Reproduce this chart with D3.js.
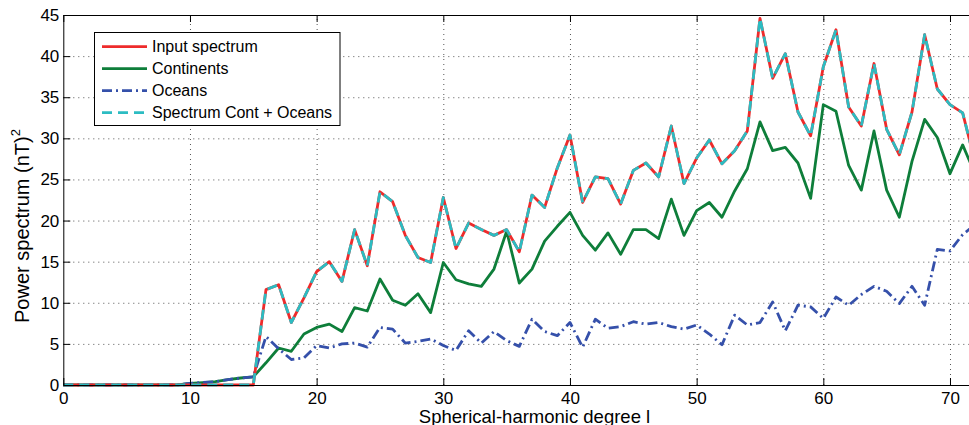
<!doctype html>
<html>
<head>
<meta charset="utf-8">
<script src="https://cdnjs.cloudflare.com/ajax/libs/d3/7.8.5/d3.min.js"></script>
<style>
  body { margin: 0; background: #fff; }
  svg { display: block; font-family: "Liberation Sans", Arial, Helvetica, sans-serif; }
  .grid line { stroke: #555; stroke-width: 1; stroke-dasharray: 1,4; }
  .grid path { display: none; }
  .axis path, .axis line { stroke: #000; stroke-width: 1; }
  .axis text { font-size: 17px; fill: #000; }
</style>
</head>
<body>
<svg width="969" height="425"></svg>
<script>
// spherical-harmonic degree l
var degrees = [0,1,2,3,4,5,6,7,8,9,10,11,12,13,14,15,16,17,18,19,20,21,22,23,24,25,26,27,28,29,
  30,31,32,33,34,35,36,37,38,39,40,41,42,43,44,45,46,47,48,49,50,51,52,53,54,55,56,57,58,59,
  60,61,62,63,64,65,66,67,68,69,70,71,72];

var inputSpectrum = [0,0,0,0,0,0,0,0,0,0,0,0,0,0,0,0,
  11.6,12.2,7.6,10.6,13.8,15.0,12.6,18.9,14.5,23.5,22.3,18.2,15.5,14.9,
  22.8,16.6,19.7,18.9,18.2,18.9,16.2,23.1,21.6,26.4,30.4,22.2,25.3,25.1,22.0,
  26.1,27.0,25.3,31.5,24.5,27.6,29.8,26.9,28.5,30.9,44.6,37.3,40.3,33.2,30.3,
  38.7,43.2,33.8,31.5,39.1,31.1,28.0,33.2,42.6,36.0,34.1,33.1,27.0];

var continents = [0,0,0,0,0,0,0,0,0,0,0.2,0.3,0.4,0.65,0.85,1.0,
  2.7,4.5,4.1,6.2,7.0,7.4,6.5,9.4,9.0,12.9,10.3,9.7,11.1,8.8,
  14.9,12.8,12.3,12.0,14.1,18.7,12.4,14.1,17.5,19.3,21.0,18.2,16.4,18.5,15.9,
  18.9,18.9,17.8,22.6,18.2,21.2,22.2,20.4,23.6,26.3,32.0,28.5,28.9,27.0,22.7,
  34.1,33.3,26.7,23.7,30.9,23.7,20.4,27.2,32.3,30.1,25.7,29.2,25.6];

var oceans = [0,0,0,0,0,0,0,0,0,0,0.2,0.3,0.4,0.65,0.85,1.0,
  5.9,4.4,3.1,3.3,4.8,4.5,5.0,5.1,4.6,7.0,6.8,5.1,5.3,5.6,
  4.8,4.2,6.6,5.1,6.5,5.4,4.7,8.0,6.5,6.0,7.6,4.6,8.0,6.9,7.1,
  7.7,7.4,7.6,7.1,6.8,7.3,6.2,4.9,8.5,7.3,7.6,10.1,6.6,9.7,9.5,
  8.1,10.7,9.7,11.0,12.0,11.4,9.9,12.0,9.7,16.5,16.3,18.3,19.5];

// sum of the two parts, as plotted (coincides with the input)
var contPlusOceans = inputSpectrum.slice();

var xTicks = [0,10,20,30,40,50,60,70];
var yTicks = [0,5,10,15,20,25,30,35,40,45];

var series = [
  {name: "Continents", values: continents, color: "#0e7e3a", width: 2.8, dash: null},
  {name: "Oceans", values: oceans, color: "#3550aa", width: 2.8, dash: "10,4,2,4"},
  {name: "Input spectrum", values: inputSpectrum, color: "#ee2b2b", width: 2.8, dash: null},
  {name: "Spectrum Cont + Oceans", values: contPlusOceans, color: "#2cbcc2", width: 2.8, dash: "10,6"}
];
var legendOrder = ["Input spectrum", "Continents", "Oceans", "Spectrum Cont + Oceans"];

function drawChart() {
  var svg = d3.select("svg");
  var left = 63.3, plotTop = 15, bottom = 385;

  var x = d3.scaleLinear().domain([0, 75]).range([left, left + 12.667 * 75]);
  var y = d3.scaleLinear().domain([0, 45]).range([bottom, plotTop]);

  // grid
  svg.append("g").attr("class", "grid")
    .attr("transform", "translate(0," + bottom + ")")
    .call(d3.axisBottom(x).tickValues(xTicks.slice(1)).tickSize(-(bottom - plotTop)).tickFormat(""));
  svg.append("g").attr("class", "grid")
    .attr("transform", "translate(" + left + ",0)")
    .call(d3.axisLeft(y).tickValues(yTicks.slice(1, -1)).tickSize(-1000).tickFormat(""));

  // lines
  var line = d3.line()
    .x(function(d, i) { return x(degrees[i]); })
    .y(function(d) { return y(d); });

  series.forEach(function(s) {
    svg.append("path")
      .attr("d", line(s.values))
      .attr("fill", "none")
      .attr("stroke", s.color)
      .attr("stroke-width", s.width)
      .attr("stroke-linejoin", "round")
      .attr("stroke-dasharray", s.dash);
  });

  // axes
  svg.append("g").attr("class", "axis")
    .attr("transform", "translate(0," + bottom + ")")
    .call(d3.axisBottom(x).tickValues(xTicks).tickSizeInner(-7).tickSizeOuter(0).tickPadding(7));
  svg.append("g").attr("class", "axis")
    .attr("transform", "translate(0," + plotTop + ")")
    .call(d3.axisTop(x).tickValues(xTicks).tickSizeInner(-7).tickSizeOuter(0).tickFormat(""));
  svg.append("g").attr("class", "axis")
    .attr("transform", "translate(" + left + ",0)")
    .call(d3.axisLeft(y).tickValues(yTicks).tickSizeInner(-7).tickSizeOuter(0).tickPadding(4));

  // axis labels
  svg.append("text")
    .attr("x", x(37.2)).attr("y", 423)
    .attr("text-anchor", "middle")
    .style("font-size", "18.5px")
    .text("Spherical-harmonic degree l");

  var yl = svg.append("text")
    .attr("transform", "translate(29,226) rotate(-90)")
    .attr("text-anchor", "middle")
    .style("font-size", "20px");
  yl.append("tspan").text("Power spectrum (nT)");
  yl.append("tspan").attr("dy", -9).style("font-size", "13px").text("2");

  // legend
  var lg = svg.append("g").attr("transform", "translate(94.5,32.5)");
  lg.append("rect").attr("width", 245.5).attr("height", 93)
    .attr("fill", "#fff").attr("stroke", "#000").attr("stroke-width", 1);
  legendOrder.forEach(function(name, i) {
    var s = series.find(function(d) { return d.name === name; });
    var ry = 14.2 + i * 22;
    lg.append("line")
      .attr("x1", 7.5).attr("x2", 52.5).attr("y1", ry).attr("y2", ry)
      .attr("stroke", s.color).attr("stroke-width", s.width)
      .attr("stroke-dasharray", s.dash);
    lg.append("text")
      .attr("x", 57.5).attr("y", ry)
      .attr("dy", "0.35em")
      .style("font-size", "16px")
      .text(name);
  });
}
drawChart();
</script>
</body>
</html>
